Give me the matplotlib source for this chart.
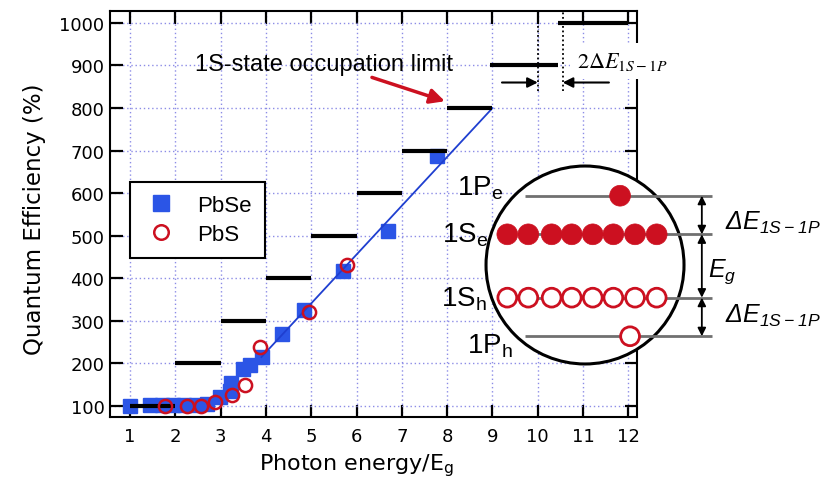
import matplotlib
matplotlib.use("Agg")
import matplotlib.pyplot as plt
from matplotlib.patches import Circle

# ---------------- data ----------------
pbse_x = [1.0, 1.45, 1.7, 1.95, 2.2, 2.45, 2.69, 2.99, 3.2, 3.22, 3.5, 3.65, 3.91, 4.35, 4.84, 5.7, 6.7, 7.77]
pbse_y = [100, 102, 102, 102, 102, 102, 105, 121, 135, 155, 187, 196, 215, 270, 326, 417, 511, 687]

pbs_x = [1.77, 2.26, 2.57, 2.88, 3.25, 3.54, 3.87, 4.95, 5.78]
pbs_y = [100, 100, 100, 109, 127, 150, 238, 322, 431]

fit_x = [3.9, 9.0]
fit_y = [215, 800]

step_start = [1, 2, 3, 4, 5, 6, 7, 8, 8.95, 10.45]
step_end = [2, 3, 4, 5, 6, 7, 8, 9, 10.45, 12]
step_qe = [100, 200, 300, 400, 500, 600, 700, 800, 900, 1000]

dE_left, dE_right = 10.0, 10.55

x_ticks = list(range(1, 13))
y_ticks = list(range(100, 1001, 100))

# schematic (inset) data, in units of the circle radius
level_labels = ['1P$_\\mathregular{e}$', '1S$_\\mathregular{e}$', '1S$_\\mathregular{h}$', '1P$_\\mathregular{h}$']
level_y = [0.70, 0.31, -0.33, -0.72]
label_x = [-0.83, -0.98, -0.99, -0.73]
label_base = [0.72, 0.24, -0.41, -0.88]
dot_x = [-0.785, -0.573, -0.337, -0.134, 0.078, 0.286, 0.505, 0.724]
pe_dot_x = 0.354
ph_dot_x = 0.455

BLUE = '#2b55e6'
LINEBLUE = '#1f3fd0'
RED = '#cc1020'
GRID = '#8c8ce6'
SANS = 'Liberation Sans'

fig = plt.figure(figsize=(8.23, 4.81), dpi=100)
ax = fig.add_axes([110/823, 63/481, 527/823, 406/481])
ax.set_xlim(0.558, 12.19)
ax.set_ylim(74.2, 1028)
ax.set_xticks(x_ticks)
ax.set_yticks(y_ticks)
ax.set_axisbelow(True)
ax.grid(True, color=GRID, linestyle=(0, (1, 2)), linewidth=1.0)
ax.tick_params(direction='in', length=9, width=1.6, top=True, right=True,
               labelsize=13, colors='black')
ax.tick_params(axis='x', pad=7)
ax.tick_params(axis='y', pad=4)
for s in ax.spines.values():
    s.set_linewidth(1.5)

# data
ax.plot(pbse_x, pbse_y, 's', ms=10, color=BLUE, mec=BLUE, ls='none', zorder=2, label='PbSe')
ax.plot(fit_x, fit_y, '-', color=LINEBLUE, lw=1.3, zorder=2.5)
for s, e, q in zip(step_start, step_end, step_qe):
    ax.plot([s, e], [q, q], color='black', lw=3, solid_capstyle='butt', zorder=3)
ax.plot(pbs_x, pbs_y, 'o', ms=9.5, mfc='none', mec=RED, mew=1.8, ls='none', zorder=4, label='PbS')

leg = ax.legend(loc='upper left', bbox_to_anchor=(0.038, 0.579), borderaxespad=0,
                fancybox=False, edgecolor='black', framealpha=1,
                prop={'family': SANS, 'size': 16}, handlelength=1.6,
                handletextpad=0.8, labelspacing=0.35, borderpad=0.6, markerscale=1.1)
leg.get_frame().set_linewidth(1.5)

# annotation for 1S limit
ax.text(2.43, 903, '1S-state occupation limit', fontsize=17, family=SANS, va='center', ha='left')
ax.annotate('', xy=(7.95, 816), xytext=(6.34, 872),
            arrowprops=dict(arrowstyle='-|>', color=RED, lw=2.5, mutation_scale=22,
                            shrinkA=0, shrinkB=0))

# 2 dE marker
for xv in (dE_left, dE_right):
    ax.plot([xv, xv], [840, 1028], ls=(0, (1, 1.5)), color='black', lw=1.3, zorder=6, clip_on=False)
ax.annotate('', xy=(dE_left, 860), xytext=(9.21, 860),
            arrowprops=dict(arrowstyle='-|>', color='black', lw=1.5, mutation_scale=15,
                            shrinkA=0, shrinkB=0), zorder=7)
ax.annotate('', xy=(dE_right, 860), xytext=(11.57, 860),
            arrowprops=dict(arrowstyle='-|>', color='black', lw=1.5, mutation_scale=15,
                            shrinkA=0, shrinkB=0), zorder=7)
ax.text(10.87, 910, r'$2\Delta E_{1S-1P}$', math_fontfamily='stix', fontsize=16,
        ha='left', va='center', zorder=5,
        bbox=dict(fc='white', ec='none', pad=5))

ax.set_xlabel('Photon energy/E$_\\mathregular{g}$', fontsize=16)
ax.xaxis.set_label_coords(0.467, -0.084)
ax.set_ylabel('Quantum Efficiency (%)', fontsize=16.5)
ax.yaxis.set_label_coords(-0.122, 0.49)

# ---------------- inset schematic ----------------
ins = fig.add_axes([430/823, 109/481, 393/823, 212/481])
ins.set_xlim(-1.566, 2.404)
ins.set_ylim(-1.071, 1.071)
ins.axis('off')
ins.set_zorder(5)
ins.add_patch(Circle((0, 0), 1.0, fc='white', ec='black', lw=2.2, zorder=1))

for ly in level_y:
    ins.plot([-0.61, 1.28], [ly, ly], color='#707070', lw=2, zorder=2, solid_capstyle='butt')

for dx in dot_x:
    ins.add_patch(Circle((dx, level_y[1]), 0.105, fc=RED, ec=RED, lw=0.5, zorder=3))
    ins.add_patch(Circle((dx, level_y[2]), 0.095, fc='white', ec=RED, lw=2.0, zorder=3))
ins.add_patch(Circle((pe_dot_x, level_y[0]), 0.105, fc=RED, ec=RED, lw=0.5, zorder=3))
ins.add_patch(Circle((ph_dot_x, level_y[3]), 0.095, fc='white', ec=RED, lw=2.0, zorder=3))

for lab, lx, lb in zip(level_labels, label_x, label_base):
    ins.text(lx, lb, lab, fontsize=20, family=SANS, ha='right', va='baseline', zorder=4)

arrow_x = 1.18
for y1, y2 in zip(level_y[:-1], level_y[1:]):
    ins.annotate('', xy=(arrow_x, y1), xytext=(arrow_x, y2),
                 arrowprops=dict(arrowstyle='<|-|>', color='black', lw=1.3,
                                 mutation_scale=12, shrinkA=0, shrinkB=0))

ins.text(1.41, 0.44, '\u0394E$_\\mathregular{1S-1P}$', fontsize=18, family=SANS,
         style='italic', ha='left', va='center')
ins.text(1.41, -0.505, '\u0394E$_\\mathregular{1S-1P}$', fontsize=18, family=SANS,
         style='italic', ha='left', va='center')
ins.text(1.24, -0.06, 'E$_\\mathregular{g}$', fontsize=18, family=SANS,
         style='italic', ha='left', va='center')

fig.savefig('out.png', dpi=100)
